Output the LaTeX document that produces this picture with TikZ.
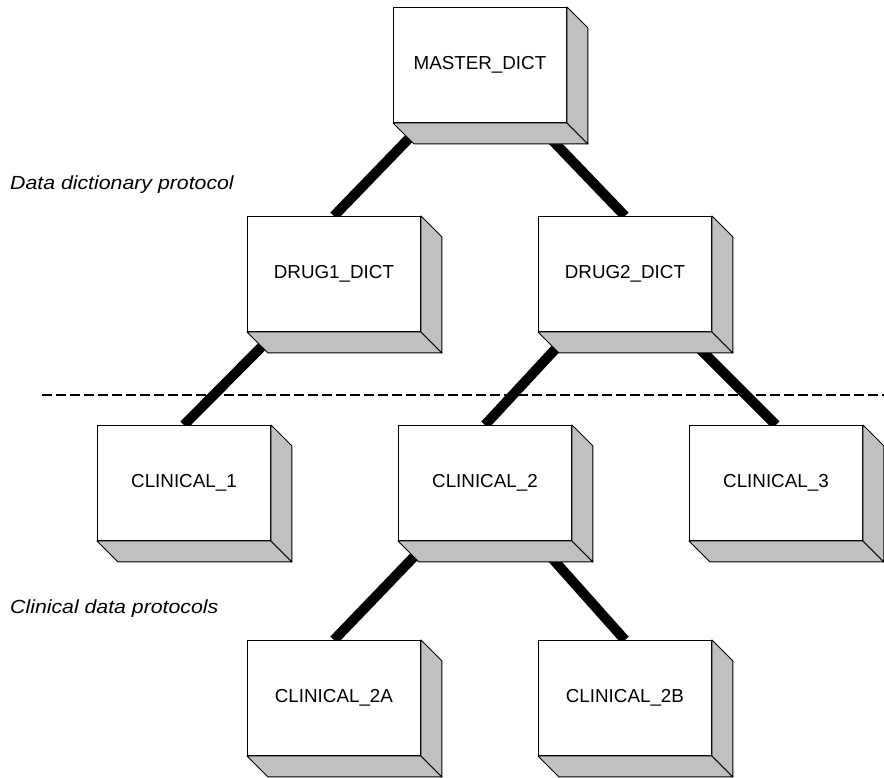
\documentclass[tikz,border=0pt]{standalone}
\usepackage{fontspec}
\setmainfont{Liberation Sans}
\usetikzlibrary{calc,backgrounds}
\definecolor{sidegray}{HTML}{C0C0C0}
\tikzset{
  x=1pt, y=-1pt,
  block/.style={draw=black, line width=0.9pt, fill=white, anchor=north west,
    minimum width=173pt, minimum height=115pt, inner sep=0pt,
    font=\fontsize{18.8}{22}\selectfont},
  face/.style={draw=black, line width=0.9pt, fill=sidegray, line join=round},
  link/.style={line width=10pt, black},
  divider/.style={line width=2pt, dash pattern=on 10pt off 4pt},
  caption/.style={anchor=base west, inner sep=0pt,
    font=\fontsize{19}{22}\itshape\selectfont}
}
\newcommand{\extrude}[1]{%
  \draw[face] (#1.south west) -- ++(21,21) -- ($(#1.south east)+(21,21)$) -- (#1.south east) -- cycle;
  \draw[face] (#1.north east) -- ++(21,21) -- ($(#1.south east)+(21,21)$) -- (#1.south east) -- cycle;
}
\newcommand{\widecap}[1]{\scalebox{1.12}[1]{#1}}
\begin{document}
\begin{tikzpicture}
\useasboundingbox (0,0) rectangle (884,777);

% front faces of the boxes
\node[block] (master) at (393,7)   {MASTER\_DICT};
\node[block] (drugA)  at (247,216) {DRUG1\_DICT};
\node[block] (drugB)  at (538,216) {DRUG2\_DICT};
\node[block] (clinA)  at (97,425)  {CLINICAL\_1};
\node[block] (clinB)  at (398,425) {CLINICAL\_2};
\node[block] (clinC)  at (689,425) {CLINICAL\_3};
\node[block] (clinBA) at (247,640) {CLINICAL\_2A};
\node[block] (clinBB) at (538,640) {CLINICAL\_2B};

% shaded sides of the boxes
\foreach \n in {master,drugA,drugB,clinA,clinB,clinC,clinBA,clinBB}{\extrude{\n}}

% section labels
\node[caption] (lblDict) at (10,189) {\widecap{Data dictionary protocol}};
\node[caption] (lblClin) at (10,613) {\widecap{Clinical data protocols}};

% separator and hierarchy links behind the boxes
\begin{pgfonlayer}{background}
  \coordinate (divL) at (42,395);
  \coordinate (divR) at (884,395);
  \draw[divider] (divL) -- (divR);
  \draw[link] (master.center) -- (drugA.north);
  \draw[link] (master.center) -- (drugB.north);
  \draw[link] (drugA.center) -- (clinA.north);
  \draw[link] (drugB.center) -- (clinB.north);
  \draw[link] (drugB.center) -- (clinC.north);
  \draw[link] (clinB.center) -- (clinBA.north);
  \draw[link] (clinB.center) -- (clinBB.north);
\end{pgfonlayer}
\end{tikzpicture}
\end{document}
